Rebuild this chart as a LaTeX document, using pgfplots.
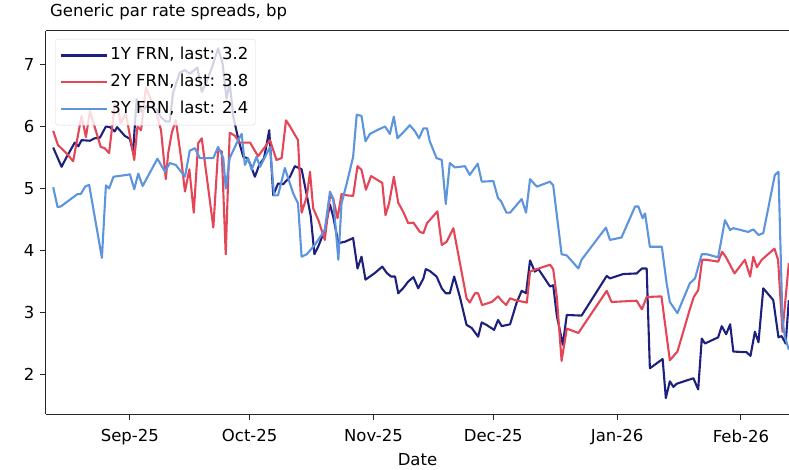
\documentclass[border=0pt]{standalone}
\usepackage{fontspec}
\setmainfont{DejaVu Sans}
\usepackage{pgfplots}
\pgfplotsset{compat=1.18}
\definecolor{c1}{RGB}{30,32,125}
\definecolor{c2}{RGB}{228,70,88}
\definecolor{c3}{RGB}{92,148,222}
\newcommand{\fs}{\fontsize{16.5}{19.8}\selectfont}
\begin{document}
\begin{tikzpicture}
\begin{axis}[name=ax, at={(0,0)}, anchor=south west, scale only axis,
  width=743pt, height=383pt,
  xmin=-21.0, xmax=165.04, ymin=1.363, ymax=7.54,
  axis lines=left, axis line style={-, line width=1pt, black!85},
  tick align=outside, major tick length=6pt, tick style={line width=1pt, black!85},
  xtick={0,30,61,91,122,153},
  xticklabels={Sep-25,Oct-25,Nov-25,Dec-25,Jan-26,Feb-26},
  ytick={2,3,4,5,6,7},
  font=\fs, ticklabel style={font=\fs},
  xticklabel style={yshift=-6pt},
  yticklabel style={xshift=-2pt},
  /pgf/number format/assume math mode=true,
  xlabel={Date},
  xlabel style={at={(axis description cs:0.5,0)}, anchor=base, yshift=-51pt, inner sep=0pt},
  title={Generic par rate spreads, bp},
  title style={at={(axis description cs:0,1)}, anchor=base west, yshift=8pt, xshift=4pt, inner sep=0pt},
  legend style={at={(axis description cs:0,1)}, anchor=north west, xshift=9pt, yshift=-8pt,
    draw=black!15, rounded corners=3pt, fill=white, fill opacity=0.8, draw opacity=1, text opacity=1,
    font=\fs, inner xsep=5pt, inner ysep=6.5pt, row sep=7.2pt,
    nodes={inner sep=2pt, text height=12pt, text depth=3.5pt}},
  legend cell align=left,
  legend image code/.code={\path (0pt,0pt) -- (46pt,0pt); \draw[#1] (0pt,0pt) -- (37pt,0pt);},
  every axis plot/.append style={line width=2.1pt, line join=round},
]
\addplot[c1] coordinates {
(-19.2,5.66) (-17.1,5.35) (-15.9,5.50) (-13.8,5.74) (-12.9,5.68) (-12.1,5.78) (-10.0,5.77) (-8.8,5.81) (-7.5,5.82)
(-6.0,6.00) (-5.0,5.99) (-3.8,5.92) (-3.2,5.99) (-1.3,5.85) (0,5.80) (0.8,5.59) (1.7,6.44) (2.9,6.24) (4.2,6.33)
(5.4,6.30) (6.7,6.27) (7.8,6.15) (9.0,6.08) (10.0,6.08) (10.8,6.54) (12.5,6.87) (13.8,6.91) (15.0,6.85) (16.9,6.95)
(18.0,6.56) (19.2,6.72) (20.5,6.94) (22.1,7.26) (23.2,7.02) (24.2,6.45) (25.0,6.70) (25.9,6.16) (27.1,5.81) (28.4,5.51)
(29.4,5.49) (30.1,5.40) (31.3,5.19) (32.4,5.38) (33.6,5.49) (34.9,5.94) (35.9,4.89) (37.1,5.08) (38.4,5.07) (40.1,5.19)
(41.3,5.36) (43.0,5.31) (44.3,4.89) (45.3,4.55) (46.2,3.94) (47.2,4.07) (48.8,4.33) (50.1,4.74) (50.9,4.55) (52.2,4.12)
(53.8,4.14) (55.9,4.20) (57.0,3.71) (58.0,3.90) (59.0,3.53) (60.1,3.58) (61.4,3.64) (63.2,3.74) (64.3,3.64) (65.4,3.58)
(66.4,3.58) (67.2,3.31) (68.4,3.39) (69.7,3.50) (71.0,3.57) (72.2,3.39) (73.5,3.55) (74.1,3.70) (75.1,3.67) (76.8,3.58)
(78.1,3.39) (79.1,3.31) (80.1,3.31) (81.2,3.58) (82.6,3.26) (84.3,2.80) (85.6,2.75) (87.2,2.61) (88.1,2.84) (89.3,2.80)
(91.2,2.72) (92.2,2.88) (93.1,2.78) (94.5,2.80) (95.2,2.81) (96.8,3.15) (98.1,3.35) (99.2,3.31) (100.2,3.84) (101.4,3.66)
(102.3,3.70) (105.2,3.42) (106.0,3.44) (106.9,2.95) (108.4,2.48) (109.4,2.96) (113.1,2.95) (119.4,3.59) (120.2,3.55)
(123.5,3.62) (126.9,3.63) (128.2,3.71) (129.4,3.71) (130.2,2.10) (133.4,2.25) (134.2,1.62) (135.2,1.89) (136.1,1.80)
(136.9,1.85) (141.1,1.94) (142.3,1.76) (143.2,2.58) (144.0,2.50) (147.3,2.60) (148.2,2.78) (149.3,2.65) (150.3,2.81)
(151.1,2.37) (154.4,2.36) (155.4,2.30) (156.5,2.69) (157.4,2.52) (158.6,3.39) (161.1,3.20) (162.4,2.60) (163.2,2.62)
(164.2,2.50) (165.0,3.20)
};
\addlegendentry{1Y FRN, last: 3.2}
\addplot[c2] coordinates {
(-19.2,5.93) (-18.0,5.70) (-15.9,5.57) (-14.2,5.44) (-12.1,6.17) (-11.0,5.83) (-10.0,6.25) (-7.3,5.67) (-6.3,5.65)
(-5.2,5.57) (-3.8,6.35) (-3.0,6.31) (-2.3,6.05) (-1.0,6.21) (1.1,5.46) (1.9,6.00) (2.8,5.94) (4.0,6.62) (5.3,6.43)
(6.5,6.24) (7.8,5.94) (9.0,5.15) (9.6,5.57) (10.5,5.90) (11.5,6.10) (12.8,5.50) (13.8,4.95) (14.9,5.31) (16.0,4.61)
(17.1,5.73) (18.0,5.81) (20.9,4.37) (22.1,5.62) (23.0,5.60) (24.0,3.94) (25.0,5.90) (26.3,5.85) (27.5,5.74) (30.1,5.74)
(32.1,5.52) (35.1,5.78) (36.7,5.46) (38.0,5.49) (39.1,6.10) (40.1,6.00) (41.1,5.89) (42.1,5.78) (43.0,4.61) (44.3,4.87)
(45.1,5.27) (45.9,4.68) (47.2,4.49) (48.8,4.17) (50.1,4.87) (50.9,4.84) (52.0,4.52) (53.0,4.91) (54.3,4.89) (55.9,4.88)
(57.0,5.36) (58.0,5.30) (59.1,4.98) (60.4,5.20) (63.2,5.09) (64.0,4.57) (64.9,4.76) (66.1,5.19) (67.2,4.77) (68.4,4.63)
(69.7,4.44) (71.0,4.45) (72.6,4.30) (73.5,4.28) (74.4,4.44) (77.0,4.63) (78.1,4.09) (79.3,4.14) (81.0,4.36) (84.3,3.23)
(85.1,3.16) (86.4,3.31) (87.2,3.31) (88.2,3.12) (90.6,3.17) (92.2,3.26) (93.1,3.19) (94.2,3.12) (95.2,3.23) (96.4,3.20)
(99.4,3.16) (100.2,3.66) (101.4,3.69) (105.2,3.77) (106.0,3.70) (106.9,3.25) (108.1,2.22) (109.4,2.74) (112.3,2.67)
(119.4,3.35) (120.6,3.17) (126.9,3.19) (128.2,3.05) (129.4,3.25) (133.1,3.26) (135.2,2.23) (137.1,2.37) (140.2,3.05)
(141.2,3.25) (142.3,3.36) (143.3,3.85) (144.4,3.85) (147.3,3.82) (148.3,3.98) (149.2,3.90) (151.4,3.63) (154.0,3.85)
(155.3,3.58) (156.1,3.90) (157.0,3.73) (158.2,3.85) (161.4,4.03) (162.3,3.85) (163.4,2.69) (165.0,3.80)
};
\addlegendentry{2Y FRN, last: 3.8}
\addplot[c3] coordinates {
(-19.2,5.02) (-18.1,4.70) (-17.3,4.71) (-15.2,4.81) (-13.1,4.91) (-12.3,4.91) (-11.2,5.03) (-10.2,5.06) (-7.0,3.88)
(-6.0,5.05) (-5.2,5.00) (-4.1,5.19) (-0.6,5.22) (0,5.23) (1.1,4.99) (2.1,5.24) (3.2,5.04) (6.9,5.48) (8.8,5.27)
(10.0,5.41) (11.5,5.38) (13.8,5.19) (15.0,5.61) (16.3,5.65) (17.5,5.49) (20.9,5.49) (22.1,5.67) (23.4,5.49) (24.0,5.00)
(25.0,5.49) (27.1,5.78) (28.0,5.88) (28.8,5.38) (29.6,5.49) (30.5,5.30) (31.7,5.51) (32.6,5.35) (35.1,5.67) (36.1,4.89)
(37.1,4.89) (38.8,5.33) (40.9,4.92) (42.1,4.76) (43.0,3.90) (44.3,3.94) (46.3,4.09) (48.8,4.33) (50.1,4.95) (50.9,4.84)
(52.2,3.85) (53.0,4.76) (54.3,5.08) (55.9,5.51) (56.8,6.19) (58.0,6.17) (59.0,5.76) (60.1,5.88) (62.2,5.95) (63.9,6.00)
(65.1,5.88) (66.1,6.16) (67.0,5.81) (68.4,5.90) (70.1,6.02) (71.4,5.92) (72.4,5.81) (73.5,5.97) (74.4,5.97) (75.1,5.76)
(76.8,5.49) (78.1,5.46) (79.1,4.75) (80.1,5.41) (81.4,5.34) (83.9,5.36) (85.1,5.22) (87.1,5.40) (88.1,5.11) (91.0,5.12)
(92.2,4.84) (92.9,4.80) (94.3,4.61) (95.2,4.61) (98.1,4.83) (99.2,4.61) (100.2,5.15) (101.9,5.03) (105.2,5.11) (106.0,5.05)
(108.1,3.94) (109.4,3.92) (112.3,3.71) (113.1,3.85) (119.2,4.37) (120.2,4.17) (123.1,4.21) (126.5,4.71) (127.3,4.71)
(128.4,4.52) (129.0,4.60) (130.2,4.06) (133.2,4.06) (134.4,3.47) (135.2,3.17) (137.1,2.99) (140.2,3.47) (141.5,3.55)
(143.2,3.94) (144.4,3.94) (147.3,3.89) (149.0,4.49) (150.3,4.33) (151.1,4.36) (154.8,4.30) (156.1,4.34) (157.4,4.25)
(158.6,4.28) (161.5,5.22) (162.4,5.27) (163.4,2.88) (164.0,2.61) (165.0,2.40)
};
\addlegendentry{3Y FRN, last: 2.4}
\end{axis}
\draw[line width=1pt, black!85] (ax.north west) -- (ax.north east);
\pgfresetboundingbox
\path[use as bounding box] (-46pt,-55pt) rectangle (743pt,414pt);
\end{tikzpicture}
\end{document}
